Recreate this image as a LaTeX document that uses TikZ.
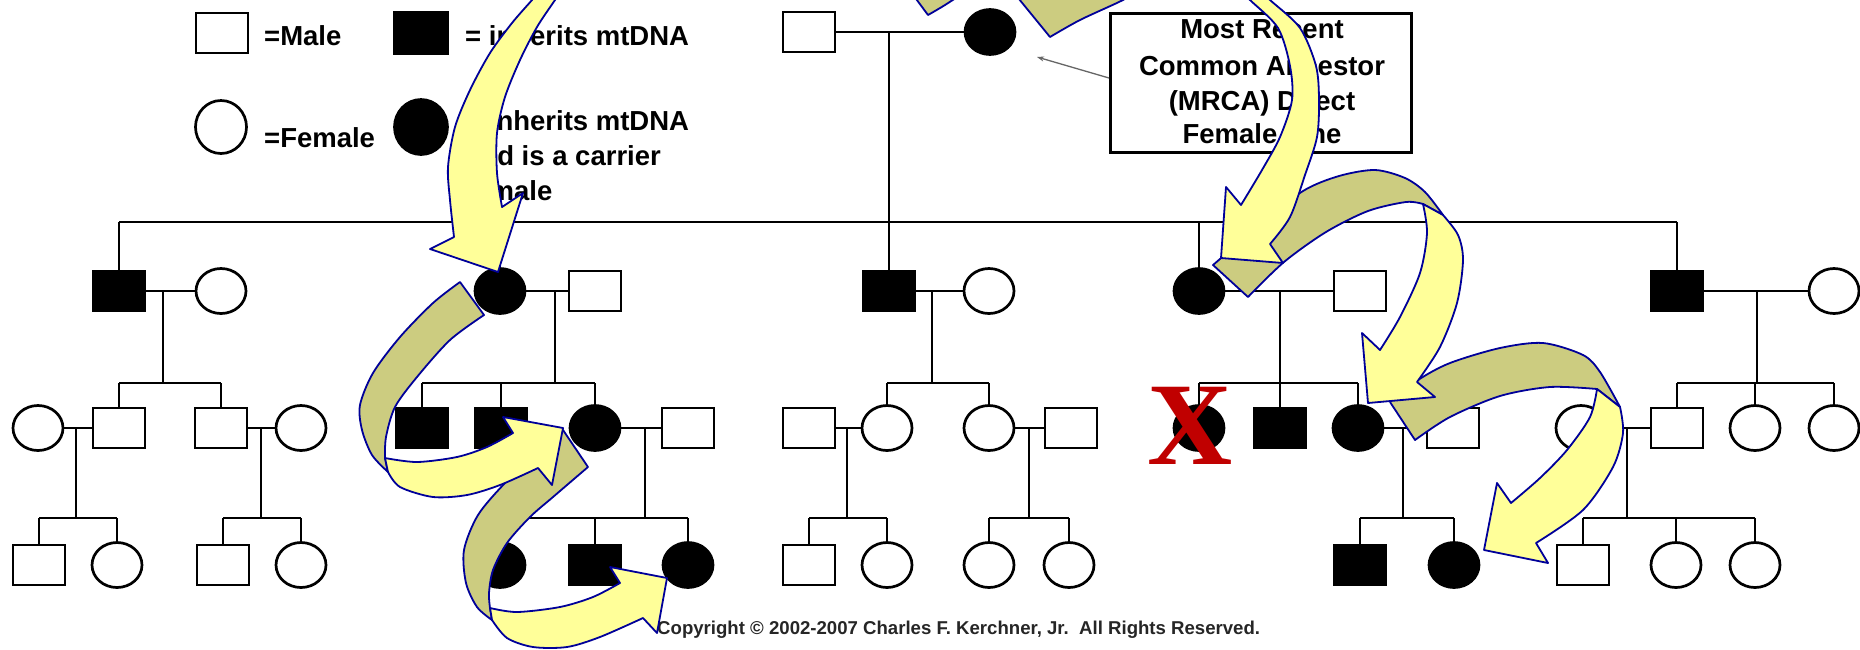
\documentclass[tikz,border=0pt]{standalone}
\usepackage{fontspec}
\setmainfont{Liberation Sans}
\newfontfamily\crossfont{Liberation Serif}
\usetikzlibrary{shapes.geometric,arrows.meta}

\definecolor{ribbonyellow}{RGB}{255,255,153}
\definecolor{ribbonolive}{RGB}{204,204,128}
\definecolor{ribbonnavy}{RGB}{0,0,153}
\definecolor{crossred}{RGB}{192,0,0}

\tikzset{
  kin/.style={line width=2.7pt},
  male/.style={rectangle, draw=black, line width=2.7pt, fill=white,
    minimum width=52pt, minimum height=40pt, inner sep=0pt},
  female/.style={ellipse, draw=black, line width=2.7pt, fill=white,
    minimum width=50pt, minimum height=45pt, inner sep=0pt},
  carrier/.style={fill=black},
  legendtext/.style={font=\fontsize{27.5}{33}\selectfont\bfseries,
    inner sep=0pt, anchor=base west},
  boxtext/.style={font=\fontsize{27.5}{33}\selectfont\bfseries,
    inner sep=0pt, anchor=base},
  frontface/.style={fill=ribbonyellow, draw=ribbonnavy, line width=1.8pt, line join=round},
  backface/.style={fill=ribbonolive, draw=ribbonnavy, line width=1.8pt, line join=round},
}

\begin{document}
\begin{tikzpicture}[x=1pt, y=-1pt]
\fill[white] (0,0) rectangle (1860,649);
\useasboundingbox (0,0) rectangle (1860,649);

% ---------- key ----------
\node[male] (keym) at (222,33) {};
\node[male, carrier, minimum width=54pt, minimum height=42pt] (keymc) at (421,33) {};
\node[female, minimum width=51pt, minimum height=53pt] (keyf) at (221,127) {};
\node[female, carrier, minimum width=53pt, minimum height=55pt] (keyfc) at (421,127) {};
\node[legendtext] (keymtext) at (264,45) {=Male};
\node[legendtext] (keymctext) at (465,45) {= inherits mtDNA};
\node[legendtext] (keyftext) at (264,147) {=Female};
\node[legendtext] (keyfctexta) at (465,130) {= inherits mtDNA};
\node[legendtext] (keyfctextb) at (465,165) {and is a carrier};
\node[legendtext] (keyfctextc) at (465,200) {female};

% ---------- founders ----------
\node[male] (m0) at (809,32) {};
\node[female, carrier] (f0) at (990,32) {};
\draw[kin] (m0) -- (f0);
\coordinate (u0) at (889,32);
\coordinate (k0) at (889,222);
\draw[kin] (u0) -- (k0);

% ---------- second generation ----------
\node[male, carrier] (a1) at (119,291) {};
\node[female] (a2) at (221,291) {};
\node[female, carrier] (b1) at (500,291) {};
\node[male] (b2) at (595,291) {};
\node[male, carrier] (c1) at (889,291) {};
\node[female] (c2) at (989,291) {};
\node[female, carrier] (d1) at (1199,291) {};
\node[male] (d2) at (1360,291) {};
\node[male, carrier] (e1) at (1677,291) {};
\node[female] (e2) at (1834,291) {};
\draw[kin] (a1.north |- k0) -- (e1.north |- k0);
\foreach \n in {a1,b1,c1,d1,e1} \draw[kin] (\n.north |- k0) -- (\n.north);
\foreach \p/\q in {a1/a2,b1/b2,c1/c2,d1/d2,e1/e2} \draw[kin] (\p) -- (\q);

\coordinate (ua) at (163,291);  \coordinate (ka) at (163,383);
\coordinate (ub) at (555,291);  \coordinate (kb) at (555,383);
\coordinate (uc) at (932,291);  \coordinate (kc) at (932,383);
\coordinate (ud) at (1280,291); \coordinate (kd) at (1280,383);
\coordinate (ue) at (1757,291); \coordinate (ke) at (1757,383);
\foreach \u/\k in {ua/ka,ub/kb,uc/kc,ud/kd,ue/ke} \draw[kin] (\u) -- (\k);

% ---------- third generation ----------
\node[female] (aw) at (38,428) {};
\node[male] (aa) at (119,428) {};
\node[male] (ab) at (221,428) {};
\node[female] (ag) at (301,428) {};
\node[male, carrier] (ba) at (422,428) {};
\node[male, carrier] (bb) at (501,428) {};
\node[female, carrier] (bc) at (595,428) {};
\node[male] (bs) at (688,428) {};
\node[male] (cs) at (809,428) {};
\node[female] (ca) at (887,428) {};
\node[female] (cb) at (989,428) {};
\node[male] (ct) at (1071,428) {};
\node[female, carrier] (da) at (1199,428) {};
\node[male, carrier] (db) at (1280,428) {};
\node[female, carrier] (dc) at (1358,428) {};
\node[male] (ds) at (1453,428) {};
\node[female] (es) at (1581,428) {};
\node[male] (ea) at (1677,428) {};
\node[female] (eb) at (1755,428) {};
\node[female] (ec) at (1834,428) {};

\draw[kin] (aa.north |- ka) -- (ab.north |- ka);
\draw[kin] (ba.north |- kb) -- (bc.north |- kb);
\draw[kin] (ca.north |- kc) -- (cb.north |- kc);
\draw[kin] (da.north |- kd) -- (dc.north |- kd);
\draw[kin] (ea.north |- ke) -- (ec.north |- ke);
\foreach \n/\k in {aa/ka,ab/ka,ba/kb,bb/kb,bc/kb,ca/kc,cb/kc,da/kd,db/kd,dc/kd,ea/ke,eb/ke,ec/ke}
  \draw[kin] (\n.north |- \k) -- (\n.north);
\foreach \p/\q in {aw/aa,ab/ag,bc/bs,cs/ca,cb/ct,dc/ds,es/ea} \draw[kin] (\p) -- (\q);

\coordinate (uaa) at (76,428);   \coordinate (kaa) at (76,518);
\coordinate (uab) at (261,428);  \coordinate (kab) at (261,518);
\coordinate (ubc) at (645,428);  \coordinate (kbc) at (645,518);
\coordinate (uca) at (847,428);  \coordinate (kca) at (847,518);
\coordinate (ucb) at (1029,428); \coordinate (kcb) at (1029,518);
\coordinate (udc) at (1403,428); \coordinate (kdc) at (1403,518);
\coordinate (uea) at (1627,428); \coordinate (kea) at (1627,518);
\foreach \u/\k in {uaa/kaa,uab/kab,ubc/kbc,uca/kca,ucb/kcb,udc/kdc,uea/kea} \draw[kin] (\u) -- (\k);

% ---------- fourth generation ----------
\node[male] (pa) at (39,565) {};
\node[female] (pb) at (117,565) {};
\node[male] (qa) at (223,565) {};
\node[female] (qb) at (301,565) {};
\node[female, carrier] (ra) at (500,565) {};
\node[male, carrier] (rb) at (595,565) {};
\node[female, carrier] (rc) at (688,565) {};
\node[male] (sa) at (809,565) {};
\node[female] (sb) at (887,565) {};
\node[female] (ga) at (989,565) {};
\node[female] (gb) at (1069,565) {};
\node[male, carrier] (va) at (1360,565) {};
\node[female, carrier] (vb) at (1454,565) {};
\node[male] (wa) at (1583,565) {};
\node[female] (wb) at (1676,565) {};
\node[female] (wc) at (1755,565) {};

\draw[kin] (pa.north |- kaa) -- (pb.north |- kaa);
\draw[kin] (qa.north |- kab) -- (qb.north |- kab);
\draw[kin] (ra.north |- kbc) -- (rc.north |- kbc);
\draw[kin] (sa.north |- kca) -- (sb.north |- kca);
\draw[kin] (ga.north |- kcb) -- (gb.north |- kcb);
\draw[kin] (va.north |- kdc) -- (vb.north |- kdc);
\draw[kin] (wa.north |- kea) -- (wc.north |- kea);
\foreach \n/\k in {pa/kaa,pb/kaa,qa/kab,qb/kab,ra/kbc,rb/kbc,rc/kbc,sa/kca,sb/kca,ga/kcb,gb/kcb,va/kdc,vb/kdc,wa/kea,wb/kea,wc/kea}
  \draw[kin] (\n.north |- \k) -- (\n.north);

% ---------- MRCA label ----------
\node[draw, line width=3pt, minimum width=301pt, minimum height=139pt, inner sep=0pt] (mrca) at (1261,83) {};
\node[boxtext] (mrcaa) at (1262,38) {Most Recent};
\node[boxtext] (mrcab) at (1262,75) {Common Ancestor};
\node[boxtext] (mrcac) at (1262,110) {(MRCA) Direct};
\node[boxtext] (mrcad) at (1262,143) {Female Line};
\coordinate (phead) at (1037,57);
\draw[black!60, line width=1.3pt, -{Stealth[length=7pt, width=5pt]}] ([yshift=5pt]mrca.west) -- (phead);

% ---------- copyright ----------
\node[font=\fontsize{18.6}{22}\selectfont\bfseries, text=black!85, inner sep=0pt, anchor=base west]
  (copy) at (657,634) {Copyright © 2002-2007 Charles F. Kerchner, Jr.\ \ All Rights Reserved.};

% ---------- crossed-out carrier ----------
\node[font=\crossfont\fontsize{118}{118}\selectfont\bfseries, text=crossred, inner sep=0pt] (cross) at (1190,426) {X};

% ---------- inheritance ribbons (lower ones first) ----------
% third to fourth generation, left branch
\path[backface] (563,430) -- (588,467)
  -- plot[smooth] coordinates {(588,467) (553,497) (530,517) (507,543) (493,570) (489,593) (490,608)}
  -- (492,620)
  -- plot[smooth] coordinates {(492,620) (477,607) (466,583) (464,550) (478,515) (505,483) (535,455) (563,430)}
  -- cycle;
\path[frontface] plot[smooth] coordinates {(490,608) (517,612) (560,607) (593,597) (620,583)}
  -- (610,567) -- (667,578) -- (657,633) -- (643,618)
  -- plot[smooth] coordinates {(643,618) (600,637) (567,647) (533,647) (507,638) (492,620)}
  -- cycle;

% second to third generation, left branch
\path[backface] (460,282) -- (484,315)
  -- plot[smooth] coordinates {(484,315) (450,340) (417,377) (395,407) (386,437) (385,458)}
  -- (388,472)
  -- plot[smooth] coordinates {(388,472) (372,455) (362,430) (360,405) (373,373) (400,337) (433,303) (460,282)}
  -- cycle;
\path[frontface] plot[smooth] coordinates {(385,458) (417,462) (457,457) (487,447) (513,433)}
  -- (503,417) -- (563,428) -- (552,485) -- (538,468)
  -- plot[smooth] coordinates {(538,468) (500,485) (467,495) (433,497) (400,487) (388,472)}
  -- cycle;

% third to fourth generation, right branch
\path[backface] (1390,402) -- (1415,440)
  -- plot[smooth] coordinates {(1415,440) (1450,417) (1500,396) (1550,387) (1597,389)}
  -- (1620,407)
  -- plot[smooth] coordinates {(1620,407) (1600,372) (1583,355) (1543,343) (1500,348) (1450,363) (1418,380) (1390,402)}
  -- cycle;
\path[frontface] plot[smooth] coordinates {(1597,389) (1590,417) (1567,450) (1540,478) (1511,503)}
  -- (1497,483) -- (1484,550) -- (1548,563) -- (1536,543)
  -- plot[smooth] coordinates {(1536,543) (1583,510) (1613,467) (1623,433) (1620,407)}
  -- cycle;

% second to third generation, right branch
\path[backface] (1213,265) -- (1248,297)
  -- plot[smooth] coordinates {(1248,297) (1284,262) (1326,232) (1368,211) (1406,202) (1423,204)}
  -- (1443,215)
  -- plot[smooth] coordinates {(1443,215) (1425,192) (1405,178) (1375,170) (1339,176) (1303,191) (1260,225) (1213,265)}
  -- cycle;
\path[frontface] plot[smooth] coordinates {(1423,204) (1427,233) (1420,273) (1400,317) (1380,350)}
  -- (1362,333) -- (1368,403) -- (1435,397) -- (1417,382)
  -- plot[smooth] coordinates {(1417,382) (1440,347) (1457,303) (1463,260) (1458,235) (1443,215)}
  -- cycle;

% founder to second generation, right branch
\path[backface] (1010,-12) -- (1050,37)
  -- plot[smooth] coordinates {(1050,37) (1080,20) (1123,0) (1142,-12)} -- cycle;
\path[frontface] plot[smooth] coordinates {(1238,-12) (1250,0) (1278,28) (1290,66) (1292,100) (1280,137) (1262,170) (1241,205)}
  -- (1226,187) -- (1221,258) -- (1283,263) -- (1270,244)
  -- plot[smooth] coordinates {(1270,244) (1290,217) (1305,175) (1317,137) (1319,100) (1316,66) (1300,28) (1270,0) (1257,-12)}
  -- cycle;

% founder to second generation, left branch
\path[backface] (908,-12) -- (928,15)
  -- plot[smooth] coordinates {(928,15) (945,5) (971,-12)} -- cycle;
\path[frontface] plot[smooth] coordinates {(542,-12) (532,0) (512,23) (490,53) (470,90) (455,127) (448,167) (450,200) (454,237)}
  -- (430,249) -- (498,272) -- (523,193) -- (502,207)
  -- plot[smooth] coordinates {(502,207) (497,173) (497,133) (505,97) (520,60) (537,27) (555,0) (563,-12)}
  -- cycle;
\end{tikzpicture}
\end{document}
